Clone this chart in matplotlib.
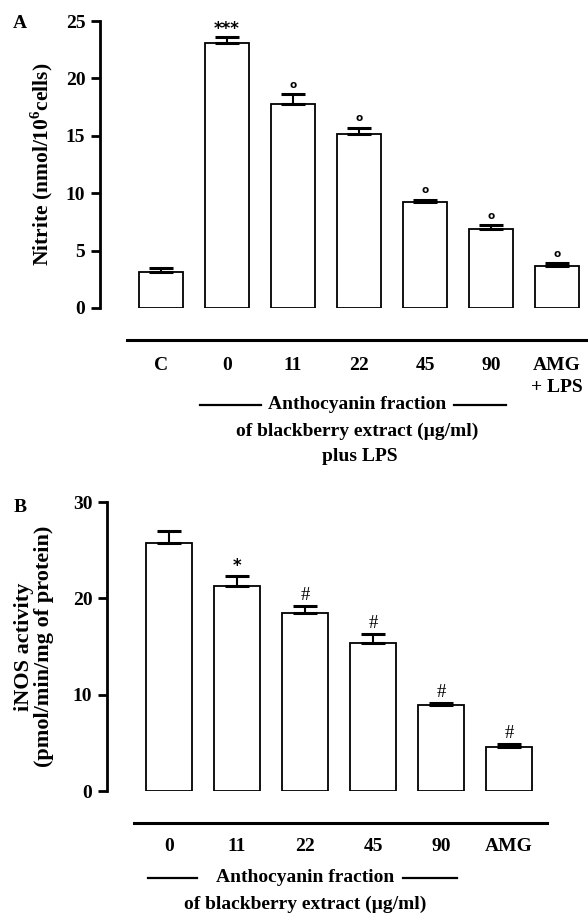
import matplotlib
matplotlib.use("Agg")
import matplotlib.pyplot as plt
from matplotlib.lines import Line2D

plt.rcParams['font.family'] = ['Liberation Serif', 'DejaVu Serif']
plt.rcParams['font.weight'] = 'bold'
plt.rcParams['axes.labelweight'] = 'bold'
plt.rcParams['mathtext.fontset'] = 'custom'
plt.rcParams['mathtext.rm'] = 'Liberation Serif:bold'
plt.rcParams['mathtext.bf'] = 'Liberation Serif:bold'

# --- Panel A: nitrite production ---
grupos_a = ["C", "0", "11", "22", "45", "90", "AMG\n+ LPS"]
nitrito = [3.1, 23.1, 17.8, 15.2, 9.2, 6.9, 3.7]
nitrito_err = [0.4, 0.5, 0.8, 0.5, 0.2, 0.3, 0.2]
marcas_a = ["", "***", "o", "o", "o", "o", "o"]

# --- Panel B: iNOS activity ---
grupos_b = ["0", "11", "22", "45", "90", "AMG"]
inos = [25.7, 21.3, 18.5, 15.4, 8.9, 4.6]
inos_err = [1.3, 1.0, 0.7, 0.9, 0.2, 0.3]
marcas_b = ["", "*", "#", "#", "#", "#"]

W, H = 588, 913
fig = plt.figure(figsize=(W / 100, H / 100), dpi=100)


def caja(x0, x1, ytop, ybot):
    # axes rectangle in pixel coords of the reference
    return [x0 / W, 1 - ybot / H, (x1 - x0) / W, (ybot - ytop) / H]


def linea(x0, x1, y, lw):
    fig.add_artist(Line2D([x0 / W, x1 / W], [1 - y / H, 1 - y / H],
                          color="black", lw=lw))


def estilo(ax):
    for s in ("top", "right", "bottom"):
        ax.spines[s].set_visible(False)
    ax.spines["left"].set_linewidth(2)
    ax.tick_params(axis="y", width=2, length=6.5, pad=4, labelsize=14)
    ax.tick_params(axis="x", length=0, labelsize=14)


# Panel A
ax1 = fig.add_axes(caja(100, 588, 21, 308))
x_a = list(range(len(nitrito)))
ax1.bar(x_a, nitrito, width=0.667, color="white", edgecolor="black", lw=1.3)
ax1.errorbar(x_a, nitrito, yerr=[[0] * len(nitrito), nitrito_err], fmt="none",
             ecolor="black", elinewidth=1.5, capsize=8.5, capthick=2.2)
for i, m in enumerate(marcas_a):
    if m == "***":
        ax1.annotate(m, (i, nitrito[i] + nitrito_err[i]), xytext=(0, 6),
                     textcoords="offset points", ha="center", va="center",
                     fontsize=12, family="DejaVu Sans", fontweight="bold")
    elif m:
        ax1.annotate(m, (i, nitrito[i] + nitrito_err[i]), xytext=(0, 7),
                     textcoords="offset points", ha="center", va="center",
                     fontsize=7.5, family="DejaVu Sans", fontweight="bold")
ax1.set_ylim(0, 25)
ax1.set_xlim(-61 / 66, 427 / 66)
ax1.set_yticks([0, 5, 10, 15, 20, 25])
ax1.set_xticks(x_a)
ax1.set_xticklabels(grupos_a, linespacing=1.4)
estilo(ax1)
ax1.tick_params(axis="x", pad=35)
ax1.set_ylabel(r"Nitrite (nmol/10$^{6}$cells)", fontsize=15.5, va="center")
ax1.yaxis.set_label_coords(-58 / 488, 0.5)

linea(127, 588, 340, 2.2)
fig.text(357 / W, 1 - 404 / H, "Anthocyanin fraction", ha="center", va="center", fontsize=14)
linea(200, 261, 405, 1.6)
linea(454, 506, 405, 1.6)
fig.text(357 / W, 1 - 431 / H, "of blackberry extract (µg/ml)", ha="center", va="center", fontsize=14)
fig.text(360 / W, 1 - 456 / H, "plus LPS", ha="center", va="center", fontsize=14)
fig.text(20 / W, 1 - 23 / H, "A", ha="center", va="center", fontsize=14)

# Panel B
ax2 = fig.add_axes(caja(107, 560, 502, 791))
x_b = list(range(len(inos)))
ax2.bar(x_b, inos, width=0.676, color="white", edgecolor="black", lw=1.3)
ax2.errorbar(x_b, inos, yerr=[[0] * len(inos), inos_err], fmt="none",
             ecolor="black", elinewidth=1.5, capsize=8.5, capthick=2.2)
for i, m in enumerate(marcas_b):
    if m == "*":
        ax2.annotate(m, (i, inos[i] + inos_err[i]), xytext=(0, 7),
                     textcoords="offset points", ha="center", va="center",
                     fontsize=12, family="DejaVu Sans", fontweight="bold")
    elif m:
        ax2.annotate(m, (i, inos[i] + inos_err[i]), xytext=(0, 7.5),
                     textcoords="offset points", ha="center", va="center",
                     fontsize=13.5, fontweight="normal")
ax2.set_ylim(0, 30)
ax2.set_xlim(-62 / 68, 391 / 68)
ax2.set_yticks([0, 10, 20, 30])
ax2.set_xticks(x_b)
ax2.set_xticklabels(grupos_b)
estilo(ax2)
ax2.tick_params(axis="x", pad=34)
ax2.set_ylabel("iNOS activity\n(pmol/min/mg of protein)", fontsize=16,
               va="center", linespacing=1.05)
ax2.yaxis.set_label_coords(-73 / 453, 0.5)

linea(134, 547, 823, 2.2)
fig.text(305 / W, 1 - 877 / H, "Anthocyanin fraction", ha="center", va="center", fontsize=14)
linea(148, 197, 878, 1.6)
linea(403, 457, 878, 1.6)
fig.text(305 / W, 1 - 904 / H, "of blackberry extract (µg/ml)", ha="center", va="center", fontsize=14)
fig.text(20 / W, 1 - 507 / H, "B", ha="center", va="center", fontsize=14)

fig.savefig("out.png", dpi=100)
